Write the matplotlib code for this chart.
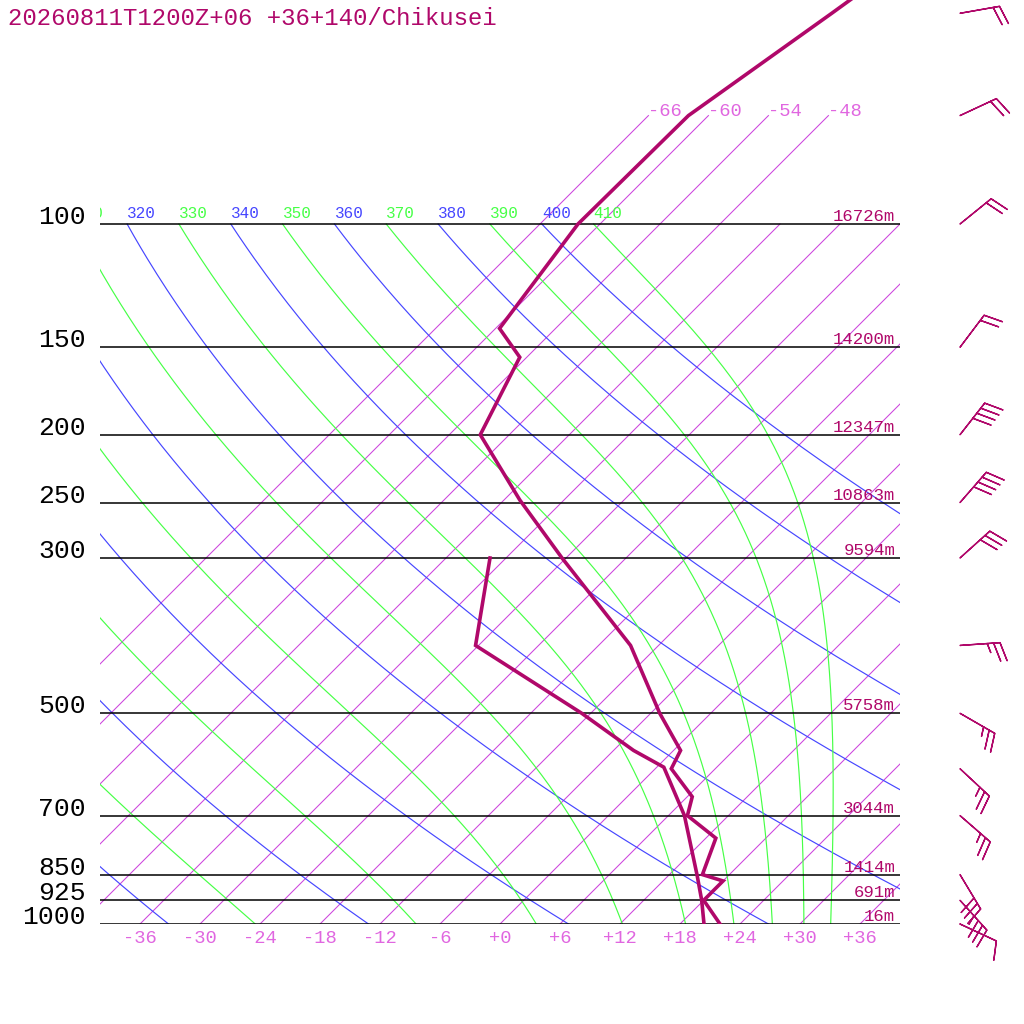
import numpy as np
import matplotlib
matplotlib.use("Agg")
import matplotlib.pyplot as plt

# ---------------- data ----------------
title = "20260811T1200Z+06 +36+140/Chikusei"

temp_p = [1000, 925, 868, 850, 754, 700, 658, 600, 565, 500, 400, 300, 248, 200, 155, 141, 100, 70, 50, 30]
temp_c = [22.0, 18.0, 18.0, 15.3, 13.0, 7.9, 6.5, 1.6, 0.7, -5.1, -14.8, -30.4, -40.4, -50.9, -54.7, -59.6, -62.2, -62.0, -57.9, -52.0]

dewp_p = [1000, 925, 851, 700, 597, 565, 500, 400, 300]
dewp_c = [20.4, 17.8, 14.8, 7.6, 0.7, -4.0, -12.9, -30.3, -37.6]

wind_p = [50, 70, 100, 150, 200, 250, 300, 400, 500, 600, 700, 850, 925, 1000]
wind_dir = [80, 65, 51, 37, 38, 41, 48, 86, 120, 133, 131, 149, 138, 115]
wind_kt = [20, 20, 20, 20, 40, 40, 30, 25, 25, 25, 25, 30, 35, 10]

level_p = [100, 150, 200, 250, 300, 500, 700, 850, 925, 1000]
level_h = ["16726m", "14200m", "12347m", "10863m", "9594m", "5758m", "3044m", "1414m", "691m", "16m"]

isotherms = list(range(-66, 43, 6))
upper_isotherms = [-66, -60, -54, -48]
dry_theta = list(range(240, 401, 20))
moist_theta = list(range(250, 411, 20))
temp_ticks = list(range(-36, 37, 6))

# ---------------- style ----------------
C_PROF = "#b0086a"
C_ISO = "#cc44dd"
C_ISO_TXT = "#e066e0"
C_DRY = "#4646ff"
C_MOIST = "#46ff46"
FONT = "Liberation Mono"
LAB_FS = 11.5

P_BOT = 1000.0
P_TOP = 1000.0 * np.exp(-924.0 / 304.0)
SKEW = 70.0  # deg C per decade of pressure
X_MIN, X_MAX = -40.0, 40.0


def skx(t, p):
    return np.asarray(t, float) + SKEW * np.log10(1000.0 / np.asarray(p, float))


def pseudo_adiabat(theta_top, p):
    Rd, Cp, Lv, eps = 287.04, 1005.7, 2.501e6, 0.622

    def es(T):
        return 6.112 * np.exp(17.67 * (T - 273.15) / (T - 29.65))

    def f(T, pp):
        e = es(T)
        rs = eps * e / (pp - e)
        return (Rd * T + Lv * rs) / (pp * (Cp + Lv * Lv * rs * eps / (Rd * T * T)))

    T = theta_top * (p[0] / 1000.0) ** (Rd / Cp)
    out = [T]
    for i in range(1, len(p)):
        h = p[i] - p[i - 1]
        pp = p[i - 1]
        k1 = f(T, pp)
        k2 = f(T + h / 2 * k1, pp + h / 2)
        k3 = f(T + h / 2 * k2, pp + h / 2)
        k4 = f(T + h * k3, pp + h)
        T = T + h / 6 * (k1 + 2 * k2 + 2 * k3 + k4)
        out.append(T)
    return np.array(out) - 273.15


fig = plt.figure(figsize=(10.24, 10.24), dpi=100)
fig.patch.set_facecolor("white")
ax = fig.add_axes([100 / 1024, 100 / 1024, 800 / 1024, 924 / 1024])
ax.set_yscale("log")
ax.set_ylim(P_BOT, P_TOP)
ax.set_xlim(X_MIN, X_MAX)
ax.axis("off")

# label width in x-data units (3 mono chars)
lab_w = 3 * 0.6 * LAB_FS * 100 / 72 / 10.0


def theta_label(th, x100, color):
    if x100 + lab_w <= X_MIN or x100 >= X_MAX:
        return
    ax.annotate(str(th), xy=(x100, 100), xytext=(0, 4.3), textcoords="offset points",
                ha="left", va="baseline", color=color, fontsize=LAB_FS, family=FONT,
                annotation_clip=False, clip_on=True)


# isotherms
pp = np.array([1000.0, 100.0])
for t in isotherms:
    ax.plot(skx([t, t], pp), pp, color=C_ISO, lw=0.75, zorder=1)
pu = np.array([100.0, 70.0])
for t in upper_isotherms:
    ax.plot(skx([t, t], pu), pu, color=C_ISO, lw=0.75, zorder=1)
    ax.annotate(f"{t:d}", xy=(skx(t, 70), 70), xytext=(0, 0), textcoords="offset points",
                ha="left", va="baseline", color=C_ISO_TXT, fontsize=13.5, family=FONT)

# dry adiabats
pg = np.linspace(100, 1000, 451)
for th in dry_theta:
    t = th * (pg / 1000.0) ** 0.2854 - 273.15
    ax.plot(skx(t, pg), pg, color=C_DRY, lw=0.85, zorder=2)
    theta_label(th, float(skx(t[0], 100)), C_DRY)

# moist adiabats
for th in moist_theta:
    t = pseudo_adiabat(th, pg)
    ax.plot(skx(t, pg), pg, color=C_MOIST, lw=0.85, zorder=2)
    theta_label(th, float(skx(t[0], 100)), C_MOIST)

# pressure levels
for p, h in zip(level_p, level_h):
    ax.plot([X_MIN, X_MAX], [p, p], color="black", lw=1.1, zorder=3)
    ax.text(-0.018, p, str(p), transform=ax.get_yaxis_transform(), ha="right", va="baseline",
            fontsize=19, family=FONT, color="black", clip_on=False)
    ax.annotate(h, xy=(0.994, p), xycoords=ax.get_yaxis_transform(), xytext=(0, 2.2),
                textcoords="offset points", ha="right", va="baseline", fontsize=12.5,
                family=FONT, color=C_PROF)

# temperature tick labels along 1000 hPa
for t in temp_ticks:
    ax.annotate(f"{t:+d}", xy=(skx(t, 1000), 1000), xytext=(0, -13.5), textcoords="offset points",
                ha="center", va="baseline", fontsize=13.5, family=FONT, color=C_ISO_TXT,
                annotation_clip=False)

# profiles
ax.plot(skx(dewp_c, dewp_p), dewp_p, color=C_PROF, lw=2.6, zorder=5, solid_joinstyle="miter")
ax.plot(skx(temp_c, temp_p), temp_p, color=C_PROF, lw=2.6, zorder=5, solid_joinstyle="miter")

# title
fig.text(8 / 1024, 1 - 25 / 1024, title, ha="left", va="baseline", fontsize=17.3,
         family=FONT, color=C_PROF)

# wind barbs
axb = fig.add_axes([930 / 1024, 100 / 1024, 94 / 1024, 924 / 1024])
axb.set_yscale("log")
axb.set_ylim(P_BOT, P_TOP)
axb.set_xlim(930, 1024)
axb.axis("off")
d = np.deg2rad(np.array(wind_dir, float))
spd = np.array(wind_kt, float)
u = -spd * np.sin(d)
v = -spd * np.cos(d)
axb.barbs(np.full(len(wind_p), 960.0), np.array(wind_p, float), u, v, length=7.6,
          barbcolor=C_PROF, flagcolor=C_PROF, linewidth=1.0,
          sizes=dict(spacing=0.16, height=0.46, width=0.29), clip_on=False)

fig.savefig("out.png", dpi=100, facecolor="white")
